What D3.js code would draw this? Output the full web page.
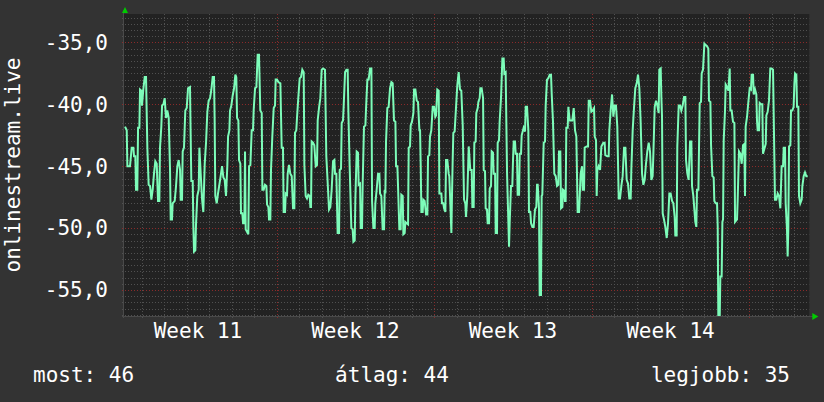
<!DOCTYPE html>
<html><head><meta charset="utf-8">
<script src="https://cdn.jsdelivr.net/npm/d3@7"></script>
<style>html,body{margin:0;padding:0;background:#333333;}svg{display:block;}</style>
</head><body>
<script>
// hours since the start of Week 11, and the measured value at that time
const hours = [6.2,8.0,8.7,11.5,13.3,15.1,15.8,17.2,17.9,19.3,20.1,21.5,22.2,23.6,24.3,25.7,27.2,28.6,30.0,31.4,32.9,34.3,35.7,37.1,38.5,40.0,41.4,42.8,43.5,44.9,45.7,47.1,48.5,49.9,51.3,52.8,54.2,54.9,56.3,57.0,59.2,60.6,62.0,63.4,64.9,65.6,67.0,67.7,69.1,70.5,72.0,73.4,75.5,76.9,78.4,79.1,79.8,81.2,81.9,83.3,84.8,85.5,86.9,88.3,89.7,91.2,92.6,94.0,95.4,96.9,98.3,99.7,101.1,101.8,102.5,104.0,105.4,106.8,108.2,109.7,111.1,112.5,113.9,115.3,116.1,117.5,118.2,119.6,121.0,122.5,123.9,
124.9,125.7,127.1,127.8,129.2,129.9,131.3,132.1,133.5,134.2,134.9,136.3,137.7,138.5,139.9,141.3,142.7,143.4,144.9,146.3,147.7,149.1,150.5,152.0,152.7,154.1,155.5,157.0,157.7,159.1,159.8,161.2,161.9,163.3,164.8,166.2,166.9,168.3,169.7,171.9,173.3,174.7,175.4,176.9,177.6,179.0,179.7,181.1,182.5,184.0,185.4,186.8,187.5,188.9,189.7,191.1,192.5,193.9,195.3,196.8,197.5,198.9,200.3,201.7,203.2,203.9,204.6,205.3,206.7,208.1,209.6,211.0,211.7,213.1,214.5,216.0,217.4,219.5,220.9,222.4,223.8,225.2,226.6,228.1,229.5,230.2,231.6,232.3,233.0,234.5,235.2,236.6,237.3,238.7,239.4,240.9,242.3,243.7,244.4,245.8,
247.6,249.0,249.8,251.2,251.9,253.3,254.7,255.4,256.9,257.6,259.0,259.7,261.1,262.6,263.3,264.7,266.1,267.5,269.0,269.7,271.1,272.5,273.2,274.6,276.1,277.5,278.2,279.6,281.0,282.5,283.2,283.9,284.6,286.0,287.4,288.9,290.3,291.7,293.1,294.6,295.3,296.7,297.4,298.8,300.2,300.9,302.4,303.1,304.5,305.2,306.6,308.1,308.8,310.2,310.9,312.3,313.8,314.5,315.9,317.3,318.7,320.2,320.9,321.6,322.3,323.7,324.4,325.8,327.3,328.7,329.4,330.8,331.5,332.9,334.4,335.8,337.2,337.9,339.3,340.8,341.5,343.6,344.3,345.7,346.5,347.9,348.6,350.0,351.4,352.1,352.9,354.3,355.0,355.7,356.4,357.8,359.3,360.7,362.1,363.5,364.9,366.4,367.8,369.2,369.9,371.3,372.8,
374.5,376.0,376.7,378.1,378.8,380.2,380.9,382.4,383.1,384.5,385.2,386.6,388.1,388.8,390.2,390.9,392.3,393.0,394.5,395.2,396.6,397.3,398.7,399.4,400.9,401.6,403.0,403.7,405.1,405.8,407.3,408.7,410.1,410.8,412.2,413.7,415.1,415.8,416.5,417.9,419.3,420.1,420.8,422.2,422.9,424.3,425.0,426.5,427.2,428.6,429.3,430.7,431.4,432.9,433.6,435.0,436.4,437.1,438.5,439.3,440.7,442.1,443.5,444.9,445.7,446.4,447.1,447.8,448.5,449.9,450.6,451.3,452.8,454.2,454.9,456.3,457.7,459.2,460.6,461.3,462.7,464.1,465.6,467.0,468.4,469.1,470.5,471.3,472.7,473.4,474.8,475.5,476.2,476.9,478.4,479.1,480.5,481.9,483.3,484.8,486.2,487.6,489.0,490.5,
492.2,493.7,494.4,495.8,496.5,498.6,500.1,500.8,502.2,503.6,505.0,506.5,507.2,508.6,509.3,510.0,511.4,512.9,514.3,516.4,517.8,518.5,520.7,522.1,522.8,524.2,525.7,527.1,528.5,529.9,531.3,532.8,534.2,535.6,537.0,538.5,539.9,541.3,542.7,544.1,545.6,546.3,547.7,549.1,550.5,552.0,553.4,554.8,556.2,557.7,559.1,560.5,561.9,563.3,564.8,566.2,567.6,569.0,569.7,570.5,571.2,572.6,574.0,575.4,576.1,577.6,578.3,579.0,579.7,581.1,582.5,584.0,585.4,586.8,588.2,589.7,591.1,592.5,593.2,594.6,595.3,596.8,598.2,599.6,601.0,602.5,603.9,604.6,606.0,607.4,608.9,610.3,611.0,612.4,614.5,
615.6,616.3,617.8,618.5,619.2,620.6,621.3,622.7,624.2,625.6,627.0,628.4,629.1,630.6,631.3,632.7,634.1,634.8,636.2,637.7,638.4,639.1,640.5,641.2,642.6,643.4,644.1,644.8,646.2,646.9,648.3,649.8,651.2,651.9,653.3,654.7,656.2,656.9,659.0,659.7,661.1,662.6,664.0,665.4,666.8,667.5,668.2,669.7,671.1,672.5,673.9,674.6,676.1,676.8,678.2,679.6,680.3,681.0,682.5,683.2,684.6,686.0,686.7,688.1,689.6,690.3,691.7,693.1,694.5,696.0,697.4,698.1,699.5,700.9,702.4,703.8,705.2,706.6,708.1,708.8,710.2,710.9,712.3,713.0,713.7,714.5,715.9,716.6,718.0,719.4,720.2,720.9,722.3,723.0,724.4,725.1,726.5,728.0,728.7,730.1,731.5,732.9,734.4];
const values = [-41.8,-42.1,-45.0,-45.0,-43.5,-43.5,-44.2,-44.2,-46.9,-46.9,-41.9,-41.9,-38.8,-38.9,-40.1,-38.8,-37.8,-37.8,-43.5,-46.5,-46.6,-47.7,-46.9,-45.6,-44.6,-44.8,-47.8,-47.8,-43.5,-41.8,-40.1,-40.0,-39.5,-41.1,-40.5,-41.1,-45.3,-49.3,-49.3,-48.0,-47.8,-46.6,-45.0,-44.5,-45.3,-47.7,-47.7,-43.8,-43.5,-40.5,-40.3,-38.7,-38.6,-46.2,-46.2,-49.9,-51.9,-51.8,-49.7,-47.4,-46.9,-43.5,-45.6,-47.6,-48.7,-44.8,-43.1,-40.6,-39.7,-39.5,-38.8,-37.8,-37.8,-41.3,-47.4,-48.0,-47.2,-46.5,-45.8,-45.0,-45.9,-46.1,-47.4,-45.0,-42.6,-42.1,-40.5,-40.1,-39.3,-38.7,-37.6,
-37.8,-41.1,-41.3,-44.5,-44.8,-48.8,-48.8,-49.6,-49.6,-43.8,-50.1,-50.3,-50.5,-45.0,-44.9,-42.1,-42.1,-40.5,-38.7,-38.6,-36.0,-36.0,-40.5,-40.7,-46.9,-46.9,-46.5,-46.6,-48.1,-48.3,-49.3,-49.3,-45.3,-42.6,-40.3,-40.1,-38.0,-38.0,-38.2,-38.3,-43.5,-43.5,-48.7,-48.7,-47.2,-47.3,-45.6,-44.9,-45.6,-45.8,-48.4,-48.4,-42.3,-42.1,-41.0,-39.4,-37.9,-37.8,-37.2,-37.4,-44.9,-47.4,-47.6,-47.3,-47.4,-48.3,-48.3,-43.0,-43.1,-43.3,-45.0,-44.9,-41.3,-40.3,-39.5,-37.2,-37.1,-37.2,-44.2,-46.4,-48.5,-48.3,-46.9,-44.6,-44.5,-45.6,-45.6,-48.0,-50.4,-50.4,-45.3,-45.2,-41.5,-41.3,-40.2,-37.4,-37.2,-37.2,-40.5,-45.0,
-50.0,-50.1,-51.1,-51.0,-47.6,-43.8,-43.9,-46.5,-46.4,-50.0,-50.0,-46.4,-41.8,-41.7,-40.3,-38.0,-38.0,-37.1,-37.1,-47.8,-50.0,-50.0,-48.0,-46.9,-45.6,-45.6,-47.2,-47.4,-50.1,-50.1,-46.9,-47.2,-43.0,-40.3,-40.2,-38.7,-38.2,-38.3,-41.3,-41.4,-45.0,-45.0,-46.6,-50.1,-50.1,-47.3,-47.4,-50.5,-50.4,-49.5,-49.6,-49.7,-43.5,-43.4,-41.7,-41.4,-40.7,-38.8,-38.8,-39.7,-39.8,-42.1,-42.1,-45.0,-48.7,-48.7,-47.7,-47.8,-48.9,-48.9,-44.2,-44.1,-42.6,-42.1,-40.2,-40.2,-41.0,-40.9,-38.8,-38.9,-47.2,-47.2,-48.0,-48.0,-48.4,-48.7,-44.5,-44.5,-45.6,-45.8,-47.4,-50.4,-47.2,-44.5,-42.3,-42.2,-40.2,-38.4,-37.4,-38.8,-38.9,-41.7,-47.7,-48.0,-49.1,-47.4,-43.4,
-45.3,-45.3,-48.3,-48.3,-43.1,-43.0,-40.7,-40.3,-39.8,-39.5,-38.7,-38.7,-39.5,-45.3,-45.4,-48.4,-48.5,-49.6,-49.6,-46.8,-46.6,-43.8,-43.9,-45.6,-45.6,-50.4,-50.4,-43.1,-42.9,-41.4,-39.4,-36.3,-36.3,-37.5,-37.4,-45.6,-49.5,-51.5,-49.6,-46.6,-46.6,-44.4,-43.0,-43.0,-44.0,-44.0,-47.3,-47.3,-44.0,-44.0,-42.5,-42.1,-41.9,-42.2,-40.2,-40.2,-42.1,-48.7,-48.7,-49.6,-49.9,-49.9,-48.5,-48.3,-46.5,-46.5,-47.4,-48.5,-55.4,-55.4,-47.4,-47.3,-43.1,-43.0,-40.1,-38.0,-37.9,-37.6,-37.6,-39.1,-41.4,-45.6,-45.8,-46.6,-46.5,-43.8,-43.8,-48.4,-48.3,-46.9,-47.0,-47.8,-47.8,-41.9,-41.9,-40.2,-41.3,-41.3,-41.3,-40.3,-42.1,-42.6,-48.7,-48.7,
-45.6,-45.0,-46.9,-46.9,-43.5,-43.4,-43.4,-39.7,-39.7,-40.6,-40.5,-40.3,-42.6,-42.9,-47.4,-45.3,-45.0,-45.3,-43.4,-43.1,-43.1,-44.1,-44.2,-44.2,-42.1,-40.5,-39.2,-41.0,-40.1,-40.1,-41.8,-47.6,-47.6,-46.6,-45.8,-43.5,-43.5,-46.1,-46.4,-47.6,-47.6,-45.2,-42.1,-40.3,-38.7,-38.3,-37.6,-38.7,-41.4,-45.6,-46.5,-46.1,-44.8,-43.8,-43.1,-43.8,-46.1,-45.8,-44.2,-42.1,-40.2,-39.7,-40.1,-40.7,-37.2,-37.1,-39.4,-41.0,-48.8,-49.3,-49.9,-50.8,-49.6,-47.2,-47.2,-47.8,-48.0,-49.1,-50.6,-50.6,-43.4,-40.1,-40.1,-40.5,-40.1,-39.4,-39.4,-44.5,-45.6,-46.1,-43.0,-43.0,-46.6,-47.4,-49.5,
-49.9,-46.9,-46.9,-43.3,-39.9,-39.8,-37.5,-37.2,-35.1,-35.2,-35.3,-35.5,-39.7,-39.8,-43.3,-45.8,-45.9,-47.8,-48.0,-48.0,-49.9,-57.5,-57.5,-53.9,-53.9,-49.5,-49.3,-42.9,-40.5,-38.4,-38.6,-38.9,-37.1,-40.5,-40.5,-41.4,-41.5,-49.5,-49.3,-47.7,-43.8,-44.0,-44.8,-43.3,-43.2,-47.4,-41.8,-41.0,-39.8,-38.7,-38.8,-37.6,-37.6,-39.2,-38.8,-39.2,-41.3,-42.1,-42.1,-39.9,-40.0,-40.0,-44.0,-43.6,-43.2,-40.9,-40.6,-39.7,-37.1,-37.1,-37.2,-40.7,-47.7,-47.7,-47.2,-47.4,-48.4,-45.0,-45.0,-43.5,-43.5,-48.0,-50.1,-52.3,-50.1,-43.4,-43.3,-40.5,-40.5,-40.2,-38.3,-37.5,-37.6,-40.2,-40.2,-47.4,-48.0,-47.7,-46.6,-45.8,-45.5,-45.8,-45.8];

const yTicks = [-55, -50, -45, -40, -35];
const weekLabels = ["Week 11", "Week 12", "Week 13", "Week 14"];
const yTitle = "onlinestream.live";
const legendLabels = ["most", "átlag", "legjobb"];
const legendValues = [46, 44, 35];

const W = 824, H = 402;
const plot = {left: 124, right: 809.3, top: 14, bottom: 316};
const FONT = "'DejaVu Sans Mono', monospace";

const svg = d3.select("body").append("svg").attr("width", W).attr("height", H);
svg.append("rect").attr("width", W).attr("height", H).attr("fill", "#333333");
svg.append("rect").attr("x", plot.left).attr("y", plot.top)
  .attr("width", plot.right - plot.left).attr("height", plot.bottom - plot.top).attr("fill", "#222222");

const x = d3.scaleLinear().domain([5.1, 736.1]).range([plot.left, plot.right]);
const y = d3.scaleLinear().domain([-57.1, -32.7]).range([plot.bottom, plot.top]);

// grid
const g = svg.append("g");
const minorY = d3.range(-57, -32.7, 0.5).filter(v => v % 5 !== 0);
g.selectAll(".hminor").data(minorY).join("line")
  .attr("x1", plot.left - 2).attr("x2", plot.right)
  .attr("y1", d => Math.round(y(d)) + 0.5).attr("y2", d => Math.round(y(d)) + 0.5)
  .attr("stroke", "#505050").attr("stroke-dasharray", "1,2");
const dayTicks = d3.range(24, 736, 24).filter(h => h % 168 !== 0);
g.selectAll(".vminor").data(dayTicks).join("line")
  .attr("y1", plot.top).attr("y2", plot.bottom + 2)
  .attr("x1", d => Math.round(x(d)) + 0.5).attr("x2", d => Math.round(x(d)) + 0.5)
  .attr("stroke", "#505050").attr("stroke-dasharray", "1,2");
g.selectAll(".hmajor").data(yTicks).join("line")
  .attr("x1", plot.left - 2).attr("x2", plot.right)
  .attr("y1", d => Math.round(y(d)) + 0.5).attr("y2", d => Math.round(y(d)) + 0.5)
  .attr("stroke", "#8a2a2a").attr("stroke-dasharray", "1,2");
const weekTicks = d3.range(168, 736, 168);
g.selectAll(".vmajor").data(weekTicks).join("line")
  .attr("y1", plot.top).attr("y2", plot.bottom + 3)
  .attr("x1", d => Math.round(x(d)) + 0.5).attr("x2", d => Math.round(x(d)) + 0.5)
  .attr("stroke", "#8a2a2a").attr("stroke-dasharray", "1,2");

// axes lines
svg.append("line").attr("x1", plot.left - 0.5).attr("x2", plot.left - 0.5)
  .attr("y1", plot.top - 4).attr("y2", plot.bottom + 2).attr("stroke", "#4a4a4a");
svg.append("line").attr("x1", plot.left - 2).attr("x2", plot.right + 4)
  .attr("y1", plot.bottom + 0.5).attr("y2", plot.bottom + 0.5).attr("stroke", "#4a4a4a");

// arrows
svg.append("path").attr("d", `M${plot.left-2},${plot.top-1}L${plot.left+4},${plot.top-1}L${plot.left+1},${plot.top-7}Z`).attr("fill", "#00cc00");
svg.append("path").attr("d", `M${plot.right+3},${plot.bottom-3}L${plot.right+3},${plot.bottom+4}L${plot.right+9},${plot.bottom+0.5}Z`).attr("fill", "#00cc00");

// line
svg.append("clipPath").attr("id", "clip").append("rect")
  .attr("x", plot.left).attr("y", plot.top).attr("width", plot.right - plot.left).attr("height", plot.bottom - plot.top);
const series = hours.map((h, i) => [h, values[i]]);
svg.append("path").datum(series)
  .attr("clip-path", "url(#clip)")
  .attr("d", d3.line().x(d => x(d[0])).y(d => y(d[1])))
  .attr("fill", "none").attr("stroke", "#7dfcb9").attr("stroke-width", 2).attr("stroke-linejoin", "miter");

// y labels
const fmt = v => d3.format(".1f")(v).replace("−", "-").replace(".", ",");
svg.selectAll(".ylab").data(yTicks).join("text")
  .attr("x", 108).attr("y", d => y(d)).attr("dy", "0.35em")
  .attr("text-anchor", "end").attr("fill", "#ffffff")
  .attr("font-family", FONT).attr("font-size", 21).text(fmt);

// x labels
svg.selectAll(".xlab").data(weekLabels).join("text")
  .attr("x", (d, i) => x(i * 168 + 84)).attr("y", 338)
  .attr("text-anchor", "middle").attr("fill", "#ffffff")
  .attr("font-family", FONT).attr("font-size", 21).text(d => d);

// y title
svg.append("text").attr("transform", `translate(20,${(plot.top + plot.bottom) / 2}) rotate(-90)`)
  .attr("text-anchor", "middle").attr("fill", "#ffffff")
  .attr("font-family", FONT).attr("font-size", 21).text(yTitle);

// legend
const legX = [33, 392, 790];
const legAnchor = ["start", "middle", "end"];
svg.selectAll(".leg").data(legendLabels).join("text")
  .attr("x", (d, i) => legX[i]).attr("y", 382)
  .attr("text-anchor", (d, i) => legAnchor[i]).attr("fill", "#ffffff")
  .attr("font-family", FONT).attr("font-size", 21)
  .text((d, i) => `${d}: ${legendValues[i]}`);
</script>
</body></html>
